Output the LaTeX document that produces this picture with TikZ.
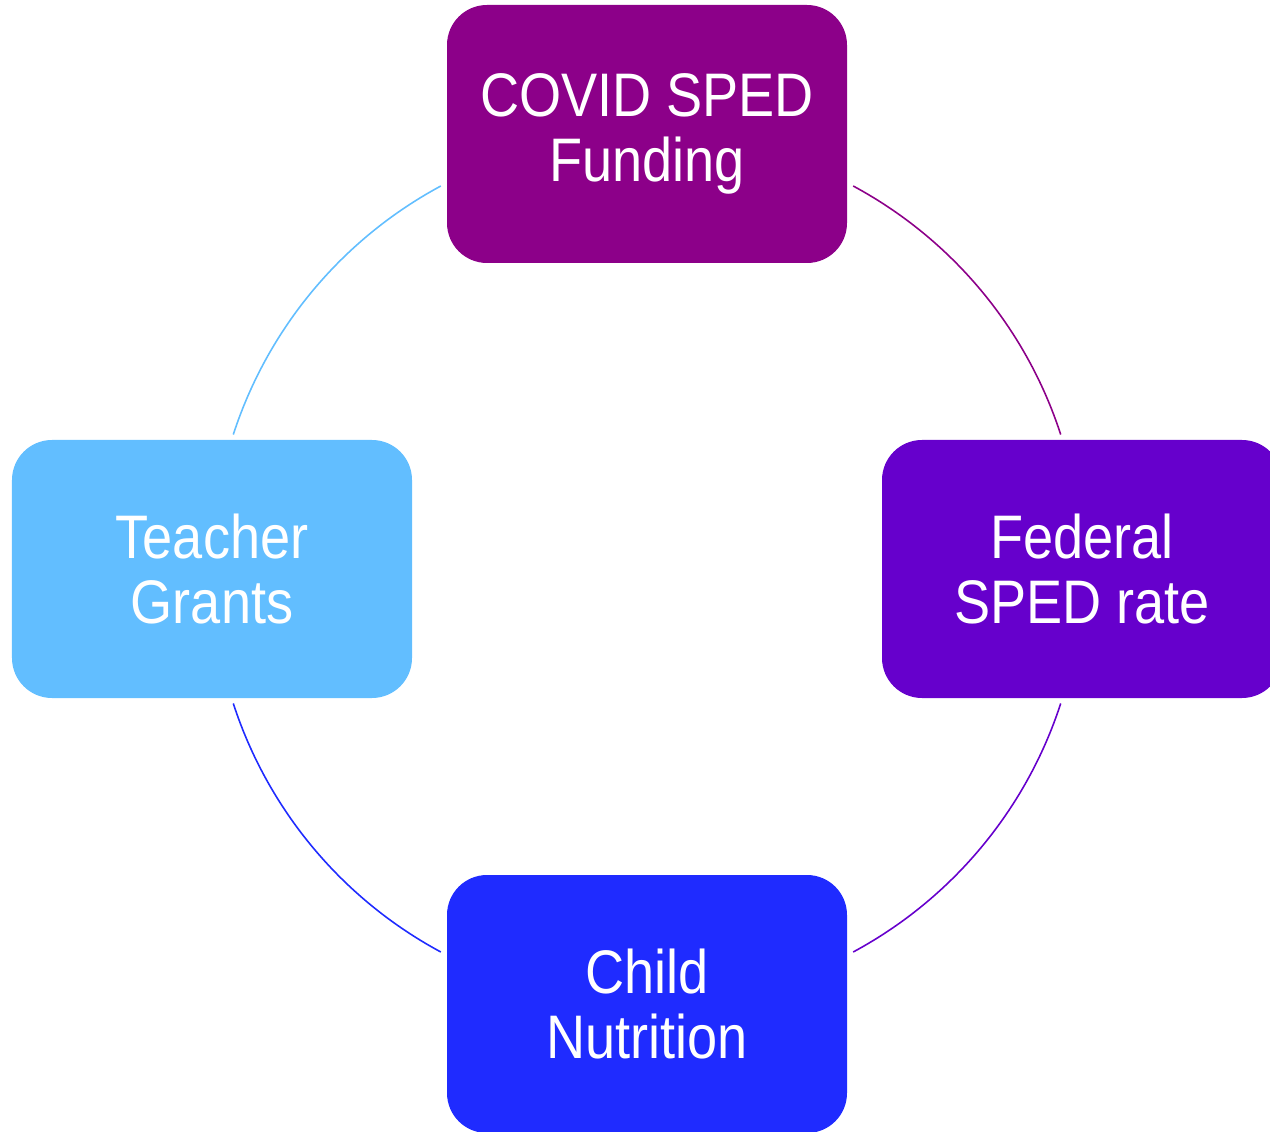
\documentclass[tikz,border=0pt]{standalone}
\usepackage{fontspec}
\setmainfont{Liberation Sans}[FakeStretch=0.88]
\usetikzlibrary{calc}
\definecolor{covidpurple}{RGB}{140,0,137}
\definecolor{fedviolet}{RGB}{102,0,204}
\definecolor{nutriblue}{RGB}{31,43,255}
\definecolor{teachsky}{RGB}{98,190,255}
\tikzset{
	fundbox/.style={rectangle, rounded corners=0.4cm, minimum width=4cm, minimum height=2.58cm,
		inner sep=0pt, text=white, align=center, font=\fontsize{17.5}{18.5}\selectfont},
	ring/.style={line width=0.45pt}
}

\begin{document}
\begin{tikzpicture}
			%%%%% START %%%%%
			\useasboundingbox (0,0) rectangle (12.7,-11.32);
			\clip (0,0) rectangle (12.7,-11.32);
			
			\coordinate (c) at (6.47,-5.69);
			
			\node[fundbox, fill=covidpurple] (covid) at ($(c)+(0,4.35)$) {COVID SPED\\Funding};
			\node[fundbox, fill=fedviolet] (federal) at ($(c)+(4.35,0)$) {Federal\\SPED rate};
			\node[fundbox, fill=nutriblue] (nutrition) at ($(c)+(0,-4.35)$) {Child\\Nutrition};
			\node[fundbox, fill=teachsky] (teacher) at ($(c)+(-4.35,0)$) {Teacher\\Grants};
			
			% ends of the ring pieces
			\coordinate (covidout) at ($(c)+(61.7:4.35)$);
			\coordinate (fedout) at ($(c)+(-18:4.35)$);
			\coordinate (nutriout) at ($(c)+(-118.3:4.35)$);
			\coordinate (teachout) at ($(c)+(162:4.35)$);
			
			\draw[ring, covidpurple] (covidout) arc[start angle=61.7, end angle=18, radius=4.35];
			\draw[ring, fedviolet] (fedout) arc[start angle=-18, end angle=-61.7, radius=4.35];
			\draw[ring, nutriblue] (nutriout) arc[start angle=-118.3, end angle=-162, radius=4.35];
			\draw[ring, teachsky] (teachout) arc[start angle=162, end angle=118.3, radius=4.35];
			
			%%%%% END %%%%%
\end{tikzpicture}
\end{document}
